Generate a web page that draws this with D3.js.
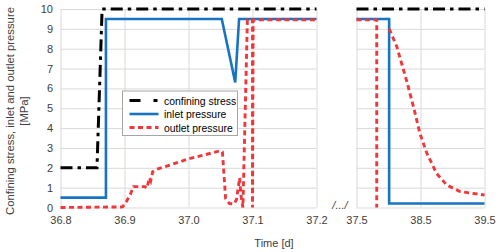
<!DOCTYPE html>
<html>
<head>
<meta charset="utf-8">
<script src="https://cdn.jsdelivr.net/npm/d3@7"></script>
<style>
  body { margin: 0; background: #fff; }
  svg text { font-family: "Liberation Sans", Arial, sans-serif; }
</style>
</head>
<body>
<svg id="chart" width="500" height="252"></svg>
<script>
// series data: [time (d), pressure (MPa)]
const confiningLeft = [[36.8, 2], [36.857, 2], [36.865, 10], [37.2, 10]];
const inletLeft = [[36.8, 0.5], [36.871, 0.5], [36.871, 9.5], [37.052, 9.5], [37.073, 6.3], [37.079, 9.5], [37.2, 9.5]];
const outletLeft = [
  [36.8, 0], [36.897, 0.03], [36.903, 0.3], [36.909, 0.65], [36.914, 1.05], [36.932, 1.05],
  [36.935, 0.97], [36.939, 1.5], [36.941, 1.35], [36.944, 1.8], [36.95, 1.92], [36.971, 2.14],
  [37.0, 2.45], [37.049, 2.85], [37.053, 2.8], [37.058, 0.45], [37.064, 0.2], [37.071, 0.18],
  [37.075, 0.4], [37.08, 1.5], [37.082, 0.6], [37.085, 0], [37.092, 9.45], [37.1, 9.45],
  [37.1, 0], [37.101, 9.45], [37.2, 9.45]
];
const confiningRight = [[37.5, 10], [39.5, 10]];
const inletRight = [[37.5, 9.5], [38.01, 9.5], [38.01, 0.2], [39.5, 0.2]];
const outletRight = [
  [37.5, 9.45], [37.816, 9.45], [37.816, 0], [37.9, null],
  [38.01, 9.0], [38.13, 8.1], [38.28, 6.42], [38.39, 5.08], [38.49, 3.74], [38.6, 2.73],
  [38.75, 1.72], [38.91, 1.13], [39.12, 0.8], [39.5, 0.63]
];

const leftTicks = [36.8, 36.9, 37.0, 37.1, 37.2];
const rightTicks = [37.5, 38.5, 39.5];
const yTicks = [0, 1, 2, 3, 4, 5, 6, 7, 8, 9, 10];

const legendItems = ["confining stress", "inlet pressure", "outlet pressure"];

// styles
const styles = {
  confining: { color: "#000000", width: 3, dash: "12,5,3.5,5" },
  inlet: { color: "#1874c2", width: 2.6, dash: null },
  outlet: { color: "#f2373b", width: 2.9, dash: "5,3.5" }
};
const gridColor = "#d9d9d9";
const textColor = "#404040";

const svg = d3.select("#chart");

const y = d3.scaleLinear().domain([0, 10]).range([207.5, 9]);
const xL = d3.scaleLinear().domain([36.8, 37.2]).range([60.5, 316.5]);
const xR = d3.scaleLinear().domain([37.5, 39.5]).range([356.5, 484.5]);

function drawPanel(x, ticks, series) {
  const g = svg.append("g");
  const [x0, x1] = x.range();

  // horizontal gridlines
  g.append("g")
    .attr("transform", `translate(${x0},0)`)
    .call(d3.axisLeft(y).tickValues(yTicks).tickSize(-(x1 - x0)).tickFormat(""))
    .call((a) => a.select(".domain").remove())
    .selectAll("line").attr("stroke", gridColor);

  // vertical gridlines
  g.append("g")
    .attr("transform", `translate(0,${y(0)})`)
    .call(d3.axisBottom(x).tickValues(ticks).tickSize(-(y(0) - y(10))).tickFormat(""))
    .call((a) => a.select(".domain").remove())
    .selectAll("line").attr("stroke", gridColor);

  // x tick labels
  g.append("g")
    .attr("transform", `translate(0,${y(0)})`)
    .call(d3.axisBottom(x).tickValues(ticks).tickSize(0).tickPadding(9).tickFormat(d3.format(".1f")))
    .call((a) => a.select(".domain").remove())
    .selectAll("text")
    .attr("fill", textColor)
    .style("font-size", "11px");

  const line = d3.line()
    .defined((d) => d[1] !== null)
    .x((d) => x(d[0]))
    .y((d) => y(d[1]));

  series.forEach(([data, s]) => {
    g.append("path")
      .datum(data)
      .attr("d", line)
      .attr("fill", "none")
      .attr("stroke", s.color)
      .attr("stroke-width", s.width)
      .attr("stroke-dasharray", s.dash)
      .attr("stroke-linejoin", "miter");
  });
}

drawPanel(xL, leftTicks, [
  [confiningLeft, styles.confining],
  [inletLeft, styles.inlet],
  [outletLeft, styles.outlet]
]);
drawPanel(xR, rightTicks, [
  [confiningRight, styles.confining],
  [inletRight, styles.inlet],
  [outletRight, styles.outlet]
]);

// y tick labels
svg.append("g")
  .attr("transform", `translate(${xL.range()[0]},0)`)
  .call(d3.axisLeft(y).tickValues(yTicks).tickSize(0).tickPadding(7.5))
  .call((a) => a.select(".domain").remove())
  .selectAll("text")
  .attr("fill", textColor)
  .style("font-size", "11px");

// axis break marker
svg.append("text")
  .attr("x", 340).attr("y", 209)
  .attr("text-anchor", "middle")
  .attr("fill", textColor)
  .style("font-size", "11px")
  .style("font-style", "italic")
  .text("/.../");

// axis titles
svg.append("text")
  .attr("x", 274).attr("y", 247)
  .attr("text-anchor", "middle")
  .attr("fill", textColor)
  .style("font-size", "11px")
  .text("Time [d]");

const yTitle = svg.append("text")
  .attr("transform", "translate(14,111) rotate(-90)")
  .attr("text-anchor", "middle")
  .attr("fill", textColor)
  .style("font-size", "11.3px");
yTitle.append("tspan").attr("x", 0).attr("y", 0).text("Confining stress, inlet and outlet pressure");
yTitle.append("tspan").attr("x", 0).attr("y", 14).text("[MPa]");

// legend
const legend = svg.append("g").attr("transform", "translate(122.5,91)");
legend.append("rect")
  .attr("width", 115).attr("height", 44.5)
  .attr("fill", "#fff")
  .attr("stroke", "#a6a6a6");

const legendStyles = [styles.confining, styles.inlet, styles.outlet];
legend.selectAll(".item")
  .data(legendItems)
  .join("g")
  .attr("class", "item")
  .attr("transform", (d, i) => `translate(0,${9.5 + i * 13.5})`)
  .each(function (d, i) {
    const s = legendStyles[i];
    const item = d3.select(this);
    item.append("line")
      .attr("x1", 7).attr("x2", 36)
      .attr("stroke", s.color)
      .attr("stroke-width", s.width)
      .attr("stroke-dasharray", i === 0 ? "11,13,4,10" : s.dash);
    item.append("text")
      .attr("x", 41.5).attr("y", 4)
      .attr("fill", "#000")
      .style("font-size", "10.4px")
      .text(d);
  });
</script>
</body>
</html>
